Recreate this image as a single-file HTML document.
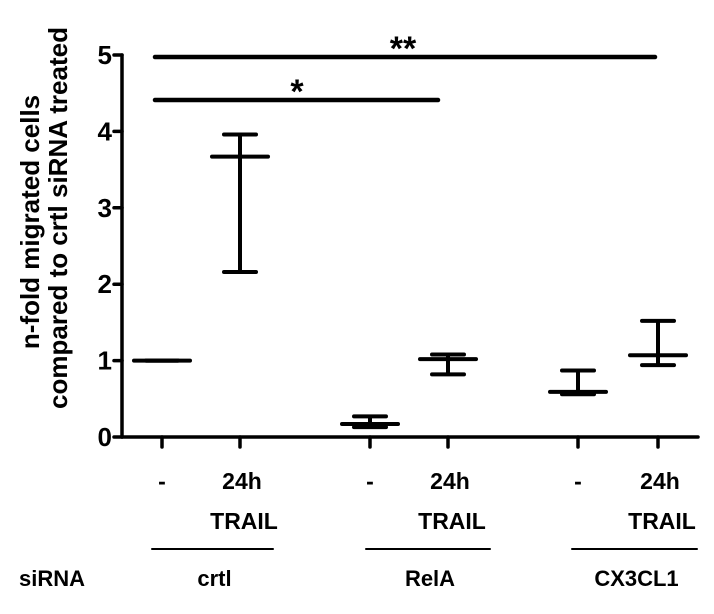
<!DOCTYPE html>
<html><head><meta charset="utf-8"><style>
body{margin:0;background:#fff;width:714px;height:609px;overflow:hidden}
svg text{font-family:"Liberation Sans",Arial,sans-serif;font-weight:bold;fill:#000}
</style></head><body>
<svg id="chart" width="714" height="609" viewBox="0 0 714 609" xmlns="http://www.w3.org/2000/svg"></svg>
<script>
const categories = ["crtl -", "crtl 24h TRAIL", "RelA -", "RelA 24h TRAIL", "CX3CL1 -", "CX3CL1 24h TRAIL"];
const means = [1.0, 3.67, 0.17, 1.02, 0.59, 1.07];
const upper = [1.0, 3.96, 0.27, 1.08, 0.87, 1.52];
const lower = [1.0, 2.16, 0.13, 0.82, 0.56, 0.94];
const yTicks = [0, 1, 2, 3, 4, 5];
const NS = "http://www.w3.org/2000/svg";
const svg = document.getElementById("chart");
const xPos = [162, 240, 370, 448, 578, 658];
function y(v){ return 437 - v * 76.4; }
function x(i){ return xPos[i]; }
function el(tag, attrs, parent){
  const e = document.createElementNS(NS, tag);
  for (const k in attrs) e.setAttribute(k, attrs[k]);
  (parent || svg).appendChild(e);
  return e;
}
function line(x1,y1,x2,y2,w){ return el("line",{x1:x1,y1:y1,x2:x2,y2:y2,stroke:"#000","stroke-width":w||4,"stroke-linecap":"round"}); }
function text(t,xx,yy,size,anchor){ const e = el("text",{x:xx,y:yy,"font-size":size||20,"text-anchor":anchor||"middle"}); e.textContent=t; return e; }

let a = line(122,55,122,437,3.5);


a = line(122,437,698,437,3.5);


yTicks.forEach(function(t){
  const tk = line(114,y(t),122,y(t),3.5);
  
  
  const lb = text(String(t),112,y(t)+9,26,"end");
  
  
});
categories.forEach(function(c,i){
  const tk = line(x(i),437,x(i),447,3.5);
  
  
});
categories.forEach(function(c,i){
  const g = el("g",{});
  
  
  const cx = x(i);
  el("line",{x1:cx,y1:y(upper[i]),x2:cx,y2:y(lower[i]),stroke:"#000","stroke-width":4},g);
  el("line",{x1:cx-16,y1:y(upper[i]),x2:cx+16,y2:y(upper[i]),stroke:"#000","stroke-width":4,"stroke-linecap":"round"},g);
  el("line",{x1:cx-16,y1:y(lower[i]),x2:cx+16,y2:y(lower[i]),stroke:"#000","stroke-width":4,"stroke-linecap":"round"},g);
  const m = el("line",{x1:cx-28,y1:y(means[i]),x2:cx+28,y2:y(means[i]),stroke:"#000","stroke-width":4,"stroke-linecap":"round"},g);
  
  
});
let s = line(155,57,655,57,4.5);


s = line(155,100,438,100,4.5);


s = text("**",403,60,34);


s = text("*",297,103,34);


[0,2,4].forEach(function(i){
  const t = text("-",x(i),489,23);
  
  
});
[1,3,5].forEach(function(i){
  const t1 = text("24h",x(i)+2,489,23);
  
  
  const t2 = text("TRAIL",x(i)+4,529,23);
  
  
});
const groups = [["crtl",152,273],["RelA",366,490],["CX3CL1",572,697]];
groups.forEach(function(g){
  const l = line(g[1],549,g[2],549,2);
  
  
  const t = text(g[0],(g[1]+g[2])/2+2,586,22);
  
  
});
let sl = text("siRNA",19,586,22,"start");


const yt = el("text",{transform:"translate(39,222) rotate(-90)","font-size":26,"text-anchor":"middle"});
yt.textContent = "n-fold migrated cells";


const yt2 = el("text",{transform:"translate(67,218) rotate(-90)","font-size":26,"text-anchor":"middle"});
yt2.textContent = "compared to crtl siRNA treated";


</script>
</body></html>
